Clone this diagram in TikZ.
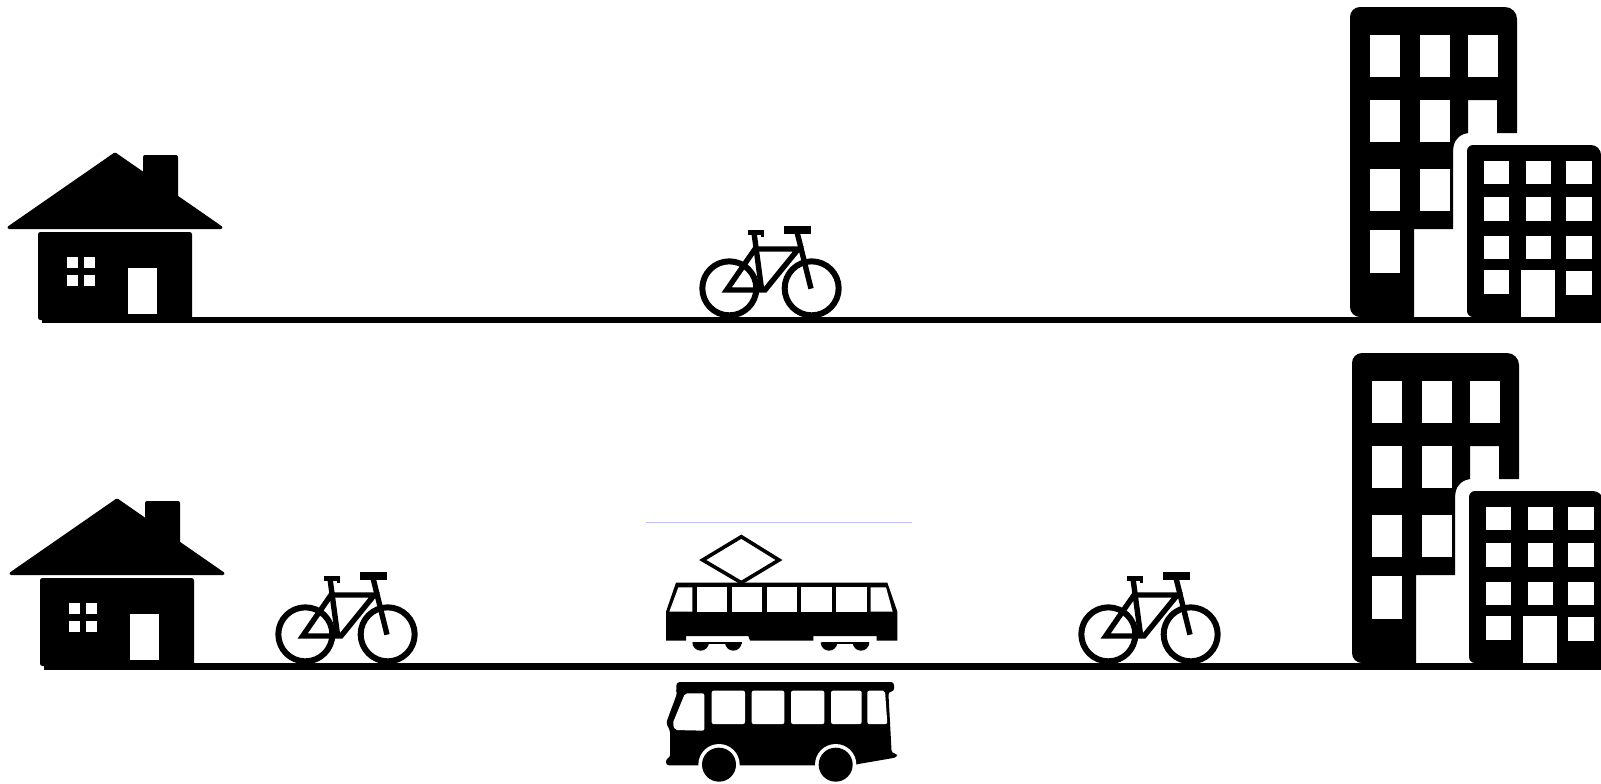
\documentclass[tikz,border=0pt]{standalone}
\newcommand{\hseicon}{%
  % chimney and roof
  \fill[rounded corners=1pt] (143,178) -- (143,155) -- (178,155) -- (178,200) -- cycle;
  \filldraw[line width=1.5pt,line join=round] (115,154) -- (221,227.5) -- (9,227.5) -- cycle;
  \fill[rounded corners=1.2pt] (38,232) -- (192,232) -- (192,320) -- (38,320) -- cycle;
  \foreach \xa/\xb in {67/78,83.5/95}{\foreach \ya/\yb in {257/268,274.5/286}{\fill[white] (\xa,\ya) rectangle (\xb,\yb);}}
  \fill[white] (128,268) rectangle (157,314);
}
\newcommand{\bikeicon}{%
  \begin{scope}[shift={(680,210)},x=0.16667pt,y=-0.16667pt,line width=2.7pt,line join=miter]
    \draw[line width=3pt] (148,235) circle (81);
    \draw[line width=3pt] (395,235) circle (81);
    \draw (222,68) -- (245,240);
    \draw (205,68) -- (252,68);
    \draw[line width=1.5pt] (248,64) -- (248,80);
    \draw (140,240) -- (255,240) -- (355,117) -- (225,117) -- cycle;
    \draw[line width=3.6pt] (312,60) -- (393,60);
    \draw (350,62) -- (393,236);
  \end{scope}
}
\newcommand{\bldgicon}{%
  \fill[rounded corners=6pt] (1350,7) -- (1517,7) -- (1517,60) [sharp corners] -- (1517,60) -- (1517,133) -- (1497,133) -- (1497,100) -- (1468,100) -- (1468,133) -- (1464,134) .. controls (1456,137) and (1453,143) .. (1453,153) -- (1453,229) -- (1414,229) -- (1414,317) -- (1360,317) [rounded corners=5pt] -- (1350,317) -- (1350,200) -- cycle;
  \foreach \xa/\xb/\ya/\yb in {1370/1400/35/77,1419.5/1449.5/35/77,1468/1497.5/35/77,
      1370/1400/100/142,1419.5/1449.5/100/142,
      1370/1400/168.5/211,1419.5/1449.5/168.5/211,
      1370/1400/230/272.5}{\fill[white] (\xa,\ya) rectangle (\xb,\yb);}
  \fill[rounded corners=5pt] (1467,145) -- (1601,145) -- (1601,317) [sharp corners] -- (1601,317) -- (1475,317) [rounded corners=3pt] -- (1467,317) -- (1467,200) -- cycle;
  \foreach \xa/\xb in {1483.5/1509,1525.5/1551,1566/1592}{
    \foreach \ya/\yb in {160.5/184,197/221,235.5/259}{\fill[white] (\xa,\ya) rectangle (\xb,\yb);}}
  \fill[white] (1483.5,270) rectangle (1509,294);
  \fill[white] (1566,270.5) rectangle (1592,294.5);
  \fill[white] (1520.5,269.5) rectangle (1555,317);
}
\begin{document}
\begin{tikzpicture}[x=0.5pt,y=-0.5pt]
\useasboundingbox[fill=white] (0,0) rectangle (1601,783);
% top row
\hseicon
\fill (42,317) rectangle (1601,323);
\bikeicon
\bldgicon
% bottom row
\begin{scope}[shift={(2,346)}]
  \hseicon
  \bldgicon
\end{scope}
\fill (44,663) rectangle (1601,669.5);
\begin{scope}[shift={(-424,346)}]\bikeicon\end{scope}
\begin{scope}[shift={(379,346)}]\bikeicon\end{scope}
% tram
\draw[blue!25,line width=0.5pt] (646,522) -- (912,522);
\begin{scope}[shift={(640,510)},x=0.16667pt,y=-0.16667pt]
  \draw[line width=1.8pt,line join=miter] (304,80) -- (417,150) -- (304,218) -- (188,150) -- cycle;
  \fill (108,218) -- (742,218) -- (772,305) -- (772,392) -- (710,392) -- (710,378) -- (520,378) -- (520,392) -- (330,392) -- (325,378) -- (138,378) -- (138,392) -- (78,392) -- (78,305) -- cycle;
  \fill[white] (115,232) -- (157,232) -- (157,305) -- (88,305) -- cycle;
  \foreach \xa/\xb in {170/262,275/366,380/472,483/576,588/680}{\fill[white] (\xa,232) rectangle (\xb,305);}
  \fill[white] (692,232) -- (738,232) -- (758,305) -- (692,305) -- cycle;
  \foreach \c in {182,280,567,663}{\fill (\c-25,397) arc[start angle=180,end angle=0,radius=25] -- cycle;}
  \draw[line width=1pt] (160,398) -- (305,398) (545,398) -- (688,398);
  % bus
  \fill[rounded corners=1.5pt] (110,516) -- (762,516) -- (762,545) -- (745,545) -- (755,730) -- (771,730) -- (771,742) -- (655,762) -- (640,766) -- (78,766) -- (78,745) -- (90,745) -- (90,660) -- (78,640) -- (112,548) -- (108,540) -- cycle;
  \fill[white,rounded corners=1pt] (135,550) -- (193,550) -- (193,662) -- (105,660) -- (98,640) -- cycle;
  \foreach \xa/\xb in {215/315,335/433,453/553,573/665}{\fill[white,rounded corners=1pt] (\xa,542) rectangle (\xb,642);}
  \fill[white,rounded corners=1pt] (682,542) -- (735,542) -- (742,642) -- (682,642) -- cycle;
  \foreach \c in {237,587}{
    \fill[white] (\c,764) circle (62);
    \fill (\c,764) circle (51);
  }
\end{scope}
\end{tikzpicture}
\end{document}
